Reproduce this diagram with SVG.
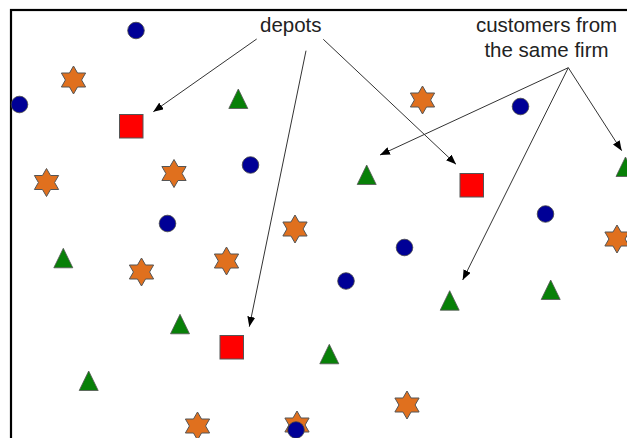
<svg xmlns="http://www.w3.org/2000/svg" xmlns:xlink="http://www.w3.org/1999/xlink" width="627" height="438" viewBox="0 0 627 438">
<style>
.frame{fill:none;stroke:#000;stroke-width:2.2}
.star{fill:#E0701E;stroke:#555;stroke-width:1}
.dot{fill:#000096;stroke:#444;stroke-width:0.8}
.tri{fill:#088008;stroke:#555;stroke-width:0.8}
.sq{fill:#FF0000;stroke:#555;stroke-width:1}
.lbl{font-family:"Liberation Sans",Arial,sans-serif;font-size:20.5px;fill:#222;text-anchor:middle}
.conn{stroke:#333;stroke-width:1;fill:none;marker-end:url(#ah)}
</style>
<defs>
<path id="star" d="M0,-14 L4.04,-7 L12.12,-7 L8.08,0 L12.12,7 L4.04,7 L0,14 L-4.04,7 L-12.12,7 L-8.08,0 L-12.12,-7 L-4.04,-7 Z"/>
<path id="tri" d="M0,0 L9.5,19.5 L-9.5,19.5 Z"/>
<marker id="ah" viewBox="0 0 10 8" refX="10" refY="4" markerWidth="10" markerHeight="8" markerUnits="userSpaceOnUse" orient="auto">
<path d="M0,0 L10,4 L0,8 Z" fill="#000"/>
</marker>
</defs>
<rect x="0" y="0" width="627" height="438" fill="#fff"/>
<rect class="frame" x="11" y="10" width="640" height="460"/>

<g id="stars">
<use id="star1" class="star" href="#star" xlink:href="#star" x="73.5" y="80"/>
<use id="star2" class="star" href="#star" xlink:href="#star" x="46.5" y="182.5"/>
<use id="star3" class="star" href="#star" xlink:href="#star" x="174" y="173.5"/>
<use id="star4" class="star" href="#star" xlink:href="#star" x="422.5" y="100"/>
<use id="star5" class="star" href="#star" xlink:href="#star" x="295" y="229"/>
<use id="star6" class="star" href="#star" xlink:href="#star" x="141.5" y="272"/>
<use id="star7" class="star" href="#star" xlink:href="#star" x="226.5" y="261"/>
<use id="star8" class="star" href="#star" xlink:href="#star" x="197.5" y="426"/>
<use id="star9" class="star" href="#star" xlink:href="#star" x="297" y="425"/>
<use id="star10" class="star" href="#star" xlink:href="#star" x="617" y="239"/>
<use id="star11" class="star" href="#star" xlink:href="#star" x="407" y="405"/>
</g>

<g id="circles">
<circle id="c1" class="dot" cx="136" cy="30.5" r="8.3"/>
<circle id="c2" class="dot" cx="19.5" cy="104.5" r="8.3"/>
<circle id="c3" class="dot" cx="250.5" cy="165" r="8.3"/>
<circle id="c4" class="dot" cx="167.5" cy="223.5" r="8.3"/>
<circle id="c5" class="dot" cx="520.5" cy="106.5" r="8.3"/>
<circle id="c6" class="dot" cx="545.5" cy="214" r="8.3"/>
<circle id="c7" class="dot" cx="404.5" cy="247.5" r="8.3"/>
<circle id="c8" class="dot" cx="346" cy="281" r="8.3"/>
<circle id="c9" class="dot" cx="296" cy="430" r="8.3"/>
</g>

<g id="triangles">
<use id="t1" class="tri" href="#tri" xlink:href="#tri" x="238.3" y="89"/>
<use id="t2" class="tri" href="#tri" xlink:href="#tri" x="366.7" y="165"/>
<use id="t3" class="tri" href="#tri" xlink:href="#tri" x="625.5" y="157"/>
<use id="t4" class="tri" href="#tri" xlink:href="#tri" x="63.3" y="248.3"/>
<use id="t5" class="tri" href="#tri" xlink:href="#tri" x="180" y="314.3"/>
<use id="t6" class="tri" href="#tri" xlink:href="#tri" x="88.7" y="371"/>
<use id="t7" class="tri" href="#tri" xlink:href="#tri" x="449.7" y="290.7"/>
<use id="t8" class="tri" href="#tri" xlink:href="#tri" x="550.7" y="280"/>
<use id="t9" class="tri" href="#tri" xlink:href="#tri" x="329.3" y="344.3"/>
</g>

<g id="depots">
<rect id="depot1" class="sq" x="119.5" y="114.5" width="23.5" height="23.5"/>
<rect id="depot2" class="sq" x="460" y="173.5" width="23.5" height="23.5"/>
<rect id="depot3" class="sq" x="220" y="335.5" width="23.5" height="23.5"/>
</g>

<g id="labels">
<text id="lbl-depots" class="lbl" x="290.8" y="31.7">depots</text>
<text id="lbl-customers" class="lbl" x="546.5" y="32">customers from<tspan x="546.5" y="57.3">the same firm</tspan></text>
</g>

<g id="connectors">
<line class="conn" x1="256.7" y1="39" x2="153.3" y2="111.7"/>
<line class="conn" x1="306" y1="50.7" x2="249.3" y2="326.7"/>
<line class="conn" x1="323.3" y1="39.3" x2="456" y2="164.3"/>
<line class="conn" x1="568.3" y1="67.7" x2="380" y2="155"/>
<line class="conn" x1="568.3" y1="67.7" x2="621.7" y2="150.7"/>
<line class="conn" x1="568.3" y1="67.7" x2="462.7" y2="280"/>
</g>
</svg>
